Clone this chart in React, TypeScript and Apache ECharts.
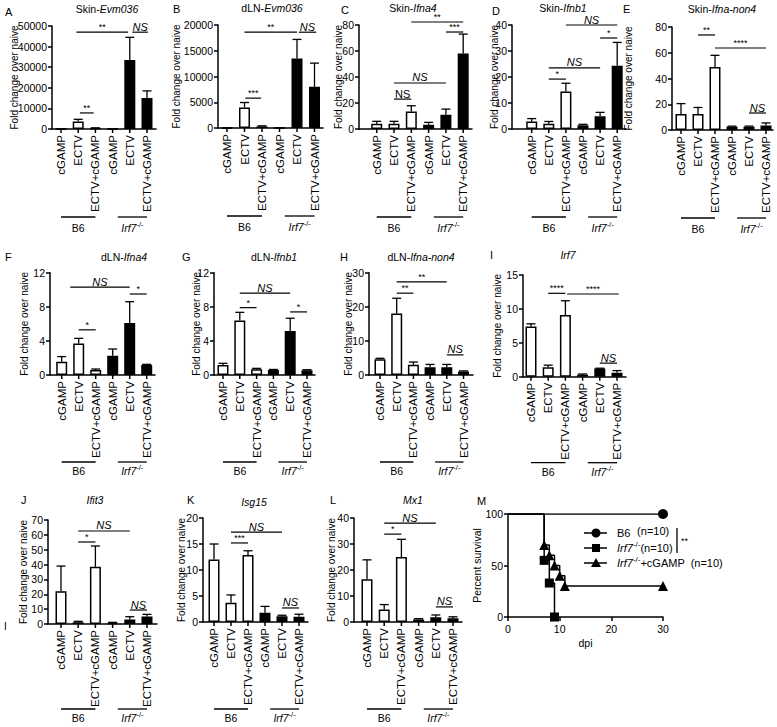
import React, { useEffect, useRef } from 'react';
import * as echarts from 'echarts';

const FONT = "'Liberation Sans', Arial, Helvetica, sans-serif";

const categories = ['cGAMP', 'ECTV', 'ECTV+cGAMP', 'cGAMP', 'ECTV', 'ECTV+cGAMP'];
const groupLabels = ['B6', 'Irf7'];
const groupSpans = [[0, 2], [3.3, 5]];
const barFill = ['#ffffff', '#ffffff', '#ffffff', '#000000', '#000000', '#000000'];

// A Skin-Evm036
const skinEvm036Ticks = [0, 10000, 20000, 30000, 40000, 50000];
const skinEvm036Mean = [0, 3700, 400, 0, 33500, 15000];
const skinEvm036Sem = [0, 1000, 150, 0, 11000, 3500];
const skinEvm036Sig = [[0.9, 3.9, 47000], [4.15, 5.05, 47000], [1.1, 1.9, 7800]];
const skinEvm036SigText = ['**', 'NS', '**'];

// B dLN-Evm036
const dlnEvm036Ticks = [0, 5000, 10000, 15000, 20000];
const dlnEvm036Mean = [0, 4000, 320, 0, 13500, 8000];
const dlnEvm036Sem = [0, 950, 100, 0, 3700, 4600];
const dlnEvm036Sig = [[1, 4, 18600], [4.1, 5.1, 18600], [1.05, 1.95, 5800]];
const dlnEvm036SigText = ['**', 'NS', '***'];

// C Skin-Ifna4
const skinIfna4Ticks = [0, 20, 40, 60, 80];
const skinIfna4Mean = [4.1, 4.1, 13.5, 3.3, 11, 58];
const skinIfna4Sem = [1.8, 1.8, 4.4, 1.8, 4.3, 15];
const skinIfna4Sig = [[2, 5, 82.3], [4, 5, 74.6], [1, 4, 35.4], [1, 2, 23]];
const skinIfna4SigText = ['**', '***', 'NS', 'NS'];

// D Skin-Ifnb1
const skinIfnb1Ticks = [0, 10, 20, 30, 40];
const skinIfnb1Mean = [2.9, 2.0, 14.4, 1.4, 4.9, 24.3];
const skinIfnb1Sem = [1.1, 0.9, 3.2, 0.4, 1.5, 9];
const skinIfnb1Sig = [[2, 5, 40], [4, 5, 35], [1, 4, 23.5], [1, 2, 19.2]];
const skinIfnb1SigText = ['NS', '*', 'NS', '*'];

// E Skin-Ifna-non4
const skinIfnaNon4Ticks = [0, 20, 40, 60, 80];
const skinIfnaNon4Mean = [12.5, 12.5, 49, 2.5, 2.5, 3.5];
const skinIfnaNon4Sem = [8, 5, 9, 0.5, 0.5, 2];
const skinIfnaNon4Sig = [[1, 2, 73.8], [2, 5, 63.7], [4, 5, 13.2]];
const skinIfnaNon4SigText = ['**', '****', 'NS'];

// F dLN-Ifna4
const dlnIfna4Ticks = [0, 4, 8, 12];
const dlnIfna4Mean = [1.56, 3.7, 0.59, 2.27, 6.1, 1.17];
const dlnIfna4Sem = [0.6, 0.6, 0.11, 0.78, 2.5, 0.08];
const dlnIfna4Sig = [[1, 2, 5.3], [0.5, 4, 10.3], [4, 5, 9.5]];
const dlnIfna4SigText = ['*', 'NS', '*'];

// G dLN-Ifnb1
const dlnIfnb1Ticks = [0, 4, 8, 12];
const dlnIfnb1Mean = [1.17, 6.4, 0.66, 0.6, 5.16, 0.55];
const dlnIfnb1Sem = [0.2, 0.95, 0.12, 0.05, 1.5, 0.07];
const dlnIfnb1Sig = [[1, 2, 7.9], [1, 4, 9.6], [4, 5, 7.4]];
const dlnIfnb1SigText = ['*', 'NS', '*'];

// H dLN-Ifna-non4
const dlnIfnaNon4Ticks = [0, 10, 20, 30];
const dlnIfnaNon4Mean = [4.6, 18, 3, 2.3, 2.3, 1];
const dlnIfnaNon4Sem = [0.3, 4.5, 0.8, 0.8, 0.8, 0.2];
const dlnIfnaNon4Sig = [[1, 2, 24], [1, 4, 27.3], [4, 5, 5.9]];
const dlnIfnaNon4SigText = ['**', '**', 'NS'];

// I Irf7
const irf7Ticks = [0, 5, 10, 15];
const irf7Mean = [7.4, 1.4, 9.1, 0.3, 1.2, 0.6];
const irf7Sem = [0.4, 0.3, 2.1, 0.1, 0.05, 0.3];
const irf7Sig = [[1, 2, 12.3], [2.1, 5.1, 12.2], [4, 5, 2.0]];
const irf7SigText = ['****', '****', 'NS'];

// J Ifit3
const ifit3Ticks = [0, 10, 20, 30, 40, 50, 60, 70];
const ifit3Mean = [22, 1.2, 38.5, 0.8, 3.1, 5];
const ifit3Sem = [17, 0.6, 14, 0.3, 1.8, 1.5];
const ifit3Sig = [[1, 2, 55.2], [1, 4, 62.6], [4, 5, 9.4]];
const ifit3SigText = ['*', 'NS', 'NS'];

// K Isg15
const isg15Ticks = [0, 5, 10, 15, 20];
const isg15Mean = [12, 3.7, 12.9, 1.8, 1.1, 1.0];
const isg15Sem = [3, 1.5, 0.8, 1.2, 0.2, 0.5];
const isg15Sig = [[1, 2, 15.2], [1, 4, 17.3], [4, 5, 2.7]];
const isg15SigText = ['***', 'NS', 'NS'];

// L Mx1
const mx1Ticks = [0, 10, 20, 30, 40];
const mx1Mean = [16.4, 4.8, 25, 1.0, 1.8, 1.4];
const mx1Sem = [7.5, 1.9, 6.8, 0.3, 0.9, 0.6];
const mx1Sig = [[1, 2, 33.8], [1, 4, 38], [4, 5, 5.8]];
const mx1SigText = ['*', 'NS', 'NS'];

// M survival
const survivalXTicks = [0, 10, 20, 30];
const survivalYTicks = [0, 50, 100];
const survivalNames = ['B6', 'Irf7-/-', 'Irf7-/-+cGAMP'];
const b6Survival = [[0, 100], [30, 100]];
const irf7Survival = [[0, 100], [7, 55], [8, 33], [9, 0]];
const irf7CgampSurvival = [[0, 100], [7, 70], [8, 60], [9, 50], [10, 40], [11, 30], [30, 30]];

type Panel = {
  letter: string; pre: string; it: string;
  ticks: number[]; mean: number[]; sem: number[]; sig: number[][]; sigText: string[]; upright?: number[];
  ax: number; top: number; bottom: number; c0: number; s: number; xe: number;
  tx: number; ty: number; lx: number; ly: number; nameX: number; gl: number; gt: number;
};

const panels: Panel[] = [
  { letter: 'A', pre: 'Skin-', it: 'Evm036', ticks: skinEvm036Ticks, mean: skinEvm036Mean, sem: skinEvm036Sem, sig: skinEvm036Sig, sigText: skinEvm036SigText,
    ax: 52, top: 26, bottom: 129, c0: 61, s: 17.2, xe: 156, tx: 107, ty: 9, lx: 5, ly: 12, nameX: 13, gl: 88, gt: 99 },
  { letter: 'B', pre: 'dLN-', it: 'Evm036', ticks: dlnEvm036Ticks, mean: dlnEvm036Mean, sem: dlnEvm036Sem, sig: dlnEvm036Sig, sigText: dlnEvm036SigText,
    ax: 218, top: 25, bottom: 128, c0: 227, s: 17.5, xe: 323, tx: 272, ty: 8, lx: 173, ly: 9, nameX: 175, gl: 88, gt: 99 },
  { letter: 'C', pre: 'Skin-', it: 'Ifna4', ticks: skinIfna4Ticks, mean: skinIfna4Mean, sem: skinIfna4Sem, sig: skinIfna4Sig, sigText: skinIfna4SigText, upright: [3],
    ax: 359, top: 25, bottom: 129, c0: 376.7, s: 17.3, xe: 472, tx: 413, ty: 8, lx: 341, ly: 10, nameX: 337, gl: 88, gt: 99 },
  { letter: 'D', pre: 'Skin-', it: 'Ifnb1', ticks: skinIfnb1Ticks, mean: skinIfnb1Mean, sem: skinIfnb1Sem, sig: skinIfnb1Sig, sigText: skinIfnb1SigText,
    ax: 512, top: 25, bottom: 129, c0: 531.7, s: 17.1, xe: 626, tx: 563, ty: 8, lx: 492, ly: 11, nameX: 493, gl: 88, gt: 99 },
  { letter: 'E', pre: 'Skin-', it: 'Ifna-non4', ticks: skinIfnaNon4Ticks, mean: skinIfnaNon4Mean, sem: skinIfnaNon4Sem, sig: skinIfnaNon4Sig, sigText: skinIfnaNon4SigText,
    ax: 672, top: 27, bottom: 130, c0: 681, s: 17, xe: 773, tx: 722, ty: 9, lx: 623, ly: 9, nameX: 627, gl: 88, gt: 99 },
  { letter: 'F', pre: 'dLN-', it: 'Ifna4', ticks: dlnIfna4Ticks, mean: dlnIfna4Mean, sem: dlnIfna4Sem, sig: dlnIfna4Sig, sigText: dlnIfna4SigText,
    ax: 50, top: 272.7, bottom: 375, c0: 61.7, s: 17, xe: 155, tx: 124, ty: 257, lx: 5, ly: 257, nameX: 23, gl: 87, gt: 96 },
  { letter: 'G', pre: 'dLN-', it: 'Ifnb1', ticks: dlnIfnb1Ticks, mean: dlnIfnb1Mean, sem: dlnIfnb1Sem, sig: dlnIfnb1Sig, sigText: dlnIfnb1SigText,
    ax: 214, top: 272.7, bottom: 375, c0: 223, s: 16.8, xe: 315, tx: 274, ty: 257, lx: 182, ly: 257, nameX: 195, gl: 87, gt: 96 },
  { letter: 'H', pre: 'dLN-', it: 'Ifna-non4', ticks: dlnIfnaNon4Ticks, mean: dlnIfnaNon4Mean, sem: dlnIfnaNon4Sem, sig: dlnIfnaNon4Sig, sigText: dlnIfnaNon4SigText,
    ax: 369, top: 272.7, bottom: 375, c0: 380, s: 16.7, xe: 473, tx: 421, ty: 257, lx: 340, ly: 257, nameX: 347, gl: 87, gt: 96 },
  { letter: 'I', pre: '', it: 'Irf7', ticks: irf7Ticks, mean: irf7Mean, sem: irf7Sem, sig: irf7Sig, sigText: irf7SigText,
    ax: 523, top: 275, bottom: 376.7, c0: 531, s: 17.2, xe: 626, tx: 568, ty: 255, lx: 490, ly: 255, nameX: 496, gl: 86, gt: 95 },
  { letter: 'J', pre: '', it: 'Ifit3', ticks: ifit3Ticks, mean: ifit3Mean, sem: ifit3Sem, sig: ifit3Sig, sigText: ifit3SigText,
    ax: 48, top: 520, bottom: 624, c0: 61, s: 17.2, xe: 157, tx: 95, ty: 500, lx: 21, ly: 500, nameX: 22, gl: 85, gt: 94 },
  { letter: 'K', pre: '', it: 'Isg15', ticks: isg15Ticks, mean: isg15Mean, sem: isg15Sem, sig: isg15Sig, sigText: isg15SigText,
    ax: 203, top: 518, bottom: 622, c0: 214, s: 17, xe: 308, tx: 254, ty: 502, lx: 187, ly: 500, nameX: 180, gl: 87, gt: 96 },
  { letter: 'L', pre: '', it: 'Mx1', ticks: mx1Ticks, mean: mx1Mean, sem: mx1Sem, sig: mx1Sig, sigText: mx1SigText,
    ax: 354, top: 518, bottom: 622, c0: 367, s: 17.2, xe: 462, tx: 413, ty: 500, lx: 330, ly: 500, nameX: 330, gl: 87, gt: 96 },
];

const AXIS = { color: '#000', width: 1.5 };

function buildOption() {
  const grid: any[] = [];
  const xAxis: any[] = [];
  const yAxis: any[] = [];
  const series: any[] = [];
  const graphic: any[] = [];

  panels.forEach((p, k) => {
    grid.push({ left: p.ax, top: p.top, width: p.xe - p.ax, height: p.bottom - p.top, containLabel: false, outerBoundsMode: 'none' });
    const xmin = -(p.c0 - p.ax) / p.s;
    const xmax = xmin + (p.xe - p.ax) / p.s;
    xAxis.push({
      type: 'value', gridIndex: k, min: xmin, max: xmax,
      axisLine: { show: true, onZero: false, lineStyle: AXIS },
      axisTick: { show: false }, axisLabel: { show: false }, splitLine: { show: false },
    });
    const t = p.ticks;
    yAxis.push({
      type: 'value', gridIndex: k, min: t[0], max: t[t.length - 1], interval: t[1] - t[0],
      axisLine: { show: true, onZero: false, lineStyle: AXIS },
      axisTick: { show: true, length: 4, lineStyle: AXIS },
      axisLabel: { color: '#000', fontSize: 10.5, fontFamily: FONT, margin: 5, formatter: (v: number) => String(v) },
      splitLine: { show: false },
      name: 'Fold change over naive', nameLocation: 'middle', nameRotate: 90, nameGap: p.ax - p.nameX - 6,
      nameMoveOverlap: false,
      nameTextStyle: { color: '#000', fontSize: 10, fontFamily: FONT },
    });
    series.push({
      type: 'bar', xAxisIndex: k, yAxisIndex: k, barWidth: 11, z: 2,
      data: p.mean.map((v, i) => ({ value: [i, v], itemStyle: { color: barFill[i] } })),
      itemStyle: { borderColor: '#000', borderWidth: 1.5 },
    });
    series.push({
      type: 'custom', xAxisIndex: k, yAxisIndex: k, z: 3, clip: false,
      data: p.mean.map((v, i) => [i, v, v + p.sem[i]]),
      renderItem: (params: any, api: any) => {
        const a = api.coord([api.value(0), api.value(1)]);
        const b = api.coord([api.value(0), api.value(2)]);
        return {
          type: 'group', children: [
            { type: 'line', shape: { x1: a[0], y1: a[1], x2: b[0], y2: b[1] }, style: { stroke: '#000', lineWidth: 1.3 } },
            { type: 'line', shape: { x1: b[0] - 4.5, y1: b[1], x2: b[0] + 4.5, y2: b[1] }, style: { stroke: '#000', lineWidth: 1.3 } },
          ],
        };
      },
    });
    series.push({
      type: 'custom', xAxisIndex: k, yAxisIndex: k, z: 4, clip: false,
      data: p.sig,
      renderItem: (params: any, api: any) => {
        const a = api.coord([api.value(0), api.value(2)]);
        const b = api.coord([api.value(1), api.value(2)]);
        const label = p.sigText[params.dataIndex];
        const ns = label === 'NS';
        const italic = ns && !(p.upright || []).includes(params.dataIndex);
        return {
          type: 'group', children: [
            { type: 'line', shape: { x1: a[0], y1: a[1], x2: b[0], y2: b[1] }, style: { stroke: '#000', lineWidth: 1.2 } },
            {
              type: 'text', x: (a[0] + b[0]) / 2, y: a[1] - (ns ? 0 : 0.5),
              style: { text: label, fontSize: ns ? 11 : 9, fontStyle: italic ? 'italic' : 'normal', fontFamily: FONT, fill: '#000', align: 'center', verticalAlign: 'bottom' },
            },
          ],
        };
      },
    });
    series.push({
      type: 'custom', xAxisIndex: k, yAxisIndex: k, z: 4, clip: false,
      data: categories.map((c, i) => [i, 0]),
      renderItem: (params: any, api: any) => {
        const pt = api.coord([api.value(0), 0]);
        return {
          type: 'group', children: [
            { type: 'line', shape: { x1: pt[0], y1: pt[1], x2: pt[0], y2: pt[1] + 4 }, style: { stroke: '#000', lineWidth: 1.5 } },
            {
              type: 'text', x: pt[0], y: pt[1] + 6, rotation: Math.PI / 2,
              style: { text: categories[params.dataIndex], fontSize: 11.5, fontFamily: FONT, fill: '#000', align: 'right', verticalAlign: 'middle' },
            },
          ],
        };
      },
    });
    series.push({
      type: 'custom', xAxisIndex: k, yAxisIndex: k, z: 4, clip: false,
      data: groupSpans,
      renderItem: (params: any, api: any) => {
        const a = api.coord([api.value(0), 0]);
        const b = api.coord([api.value(1), 0]);
        const y = a[1] + p.gl;
        const isKo = params.dataIndex === 1;
        return {
          type: 'group', children: [
            { type: 'line', shape: { x1: a[0], y1: y, x2: b[0], y2: y }, style: { stroke: '#000', lineWidth: 1.3 } },
            {
              type: 'text', x: (a[0] + b[0]) / 2, y: a[1] + p.gt,
              style: {
                text: isKo ? `{i|${groupLabels[1]}}{s|-/-}` : groupLabels[0],
                fontSize: 10.5, fontFamily: FONT, fill: '#000', align: 'center', verticalAlign: 'middle',
                rich: {
                  i: { fontSize: 10.5, fontStyle: 'italic', fontFamily: FONT, fill: '#000' },
                  s: { fontSize: 7.5, fontFamily: FONT, fill: '#000', padding: [0, 0, 7, 0] },
                },
              },
            },
          ],
        };
      },
    });

    graphic.push({
      type: 'text', x: p.tx, y: p.ty,
      style: {
        text: p.pre ? `{n|${p.pre}}{i|${p.it}}` : `{i|${p.it}}`,
        align: 'center', verticalAlign: 'middle', fill: '#000',
        rich: {
          n: { fontSize: 10.5, fontFamily: FONT, fill: '#000' },
          i: { fontSize: 10.5, fontFamily: FONT, fontStyle: 'italic', fill: '#000' },
        },
      },
    });
    graphic.push({
      type: 'text', x: p.lx, y: p.ly,
      style: { text: p.letter, fontSize: 11, fontFamily: FONT, fill: '#000', align: 'left', verticalAlign: 'middle' },
    });
  });

  // Survival panel M
  const m = panels.length;
  grid.push({ left: 508, top: 514, width: 155, height: 103, containLabel: false, outerBoundsMode: 'none' });
  xAxis.push({
    type: 'value', gridIndex: m, min: survivalXTicks[0], max: survivalXTicks[survivalXTicks.length - 1],
    interval: survivalXTicks[1] - survivalXTicks[0],
    axisLine: { show: true, onZero: false, lineStyle: AXIS },
    axisTick: { show: true, length: 4, lineStyle: AXIS },
    axisLabel: { color: '#000', fontSize: 10.5, fontFamily: FONT, margin: 6 },
    splitLine: { show: false },
    name: 'dpi', nameLocation: 'middle', nameGap: 20, nameMoveOverlap: false,
    nameTextStyle: { color: '#000', fontSize: 10.5, fontFamily: FONT },
  });
  yAxis.push({
    type: 'value', gridIndex: m, min: survivalYTicks[0], max: survivalYTicks[survivalYTicks.length - 1],
    interval: survivalYTicks[1] - survivalYTicks[0],
    axisLine: { show: true, onZero: false, lineStyle: AXIS },
    axisTick: { show: true, length: 4, lineStyle: AXIS },
    axisLabel: { color: '#000', fontSize: 10.5, fontFamily: FONT, margin: 5 },
    splitLine: { show: false },
    name: 'Percent survival', nameLocation: 'middle', nameRotate: 90, nameGap: 26, nameMoveOverlap: false,
    nameTextStyle: { color: '#000', fontSize: 10.5, fontFamily: FONT },
  });
  const survSets = [
    { d: b6Survival, sym: 'circle', size: 10 },
    { d: irf7Survival, sym: 'rect', size: 9 },
    { d: irf7CgampSurvival, sym: 'triangle', size: 10 },
  ];
  survSets.forEach((sset, j) => {
    series.push({
      type: 'line', name: survivalNames[j], xAxisIndex: m, yAxisIndex: m, step: 'end', z: 3 + j,
      lineStyle: { color: '#000', width: 1.5 }, itemStyle: { color: '#000' },
      symbol: sset.sym, symbolSize: sset.size,
      data: sset.d.map((pt, i) => (i === 0 ? { value: pt, symbol: 'none' } : { value: pt })),
    });
  });

  // legend (drawn)
  const legRows = [533, 548, 563];
  const legTexts = [
    '{n|B6}  {u|(n=10)}',
    '{i|Irf7}{s|-/-}{n|(n=10)}',
    '{i|Irf7}{s|-/-}{n|+cGAMP  (n=10)}',
  ];
  const rich = {
    n: { fontSize: 11, fontFamily: FONT, fill: '#000' },
    u: { fontSize: 11, fontFamily: FONT, fill: '#000', padding: [0, 0, 4, 0] },
    i: { fontSize: 11, fontFamily: FONT, fontStyle: 'italic', fill: '#000' },
    s: { fontSize: 8, fontFamily: FONT, fill: '#000', padding: [0, 0, 8, 0] },
  };
  legRows.forEach((y, j) => {
    graphic.push({ type: 'line', shape: { x1: 584, y1: y, x2: 607, y2: y }, style: { stroke: '#000', lineWidth: 1.5 } });
    if (j === 0) graphic.push({ type: 'circle', shape: { cx: 596, cy: y, r: 4.5 }, style: { fill: '#000' } });
    if (j === 1) graphic.push({ type: 'rect', shape: { x: 592, y: y - 4, width: 8, height: 8 }, style: { fill: '#000' } });
    if (j === 2) graphic.push({ type: 'polygon', shape: { points: [[596, y - 5], [601, y + 4], [591, y + 4]] }, style: { fill: '#000' } });
    graphic.push({ type: 'text', x: 617, y, style: { text: legTexts[j], align: 'left', verticalAlign: 'middle', fill: '#000', rich } });
  });
  graphic.push({ type: 'line', shape: { x1: 677, y1: 528, x2: 677, y2: 553 }, style: { stroke: '#000', lineWidth: 1.3 } });
  graphic.push({ type: 'text', x: 681, y: 545, style: { text: '**', fontSize: 9, fontFamily: FONT, fill: '#000', align: 'left', verticalAlign: 'bottom' } });
  graphic.push({ type: 'text', x: 477, y: 501, style: { text: 'M', fontSize: 11, fontFamily: FONT, fill: '#000', align: 'left', verticalAlign: 'middle' } });
  graphic.push({ type: 'text', x: 4, y: 626, style: { text: 'I', fontSize: 10, fontFamily: FONT, fill: '#000', align: 'left', verticalAlign: 'middle' } });

  return { animation: false, backgroundColor: '#fff', grid, xAxis, yAxis, series, graphic };
}

export default function App() {
  const ref = useRef<HTMLDivElement>(null);
  useEffect(() => {
    const chart = echarts.init(ref.current as HTMLDivElement, null, { renderer: 'svg' });
    chart.setOption(buildOption() as any);
    return () => chart.dispose();
  }, []);
  return <div ref={ref} style={{ position: 'absolute', left: 0, top: 0, width: 777, height: 727, background: '#fff' }} />;
}
